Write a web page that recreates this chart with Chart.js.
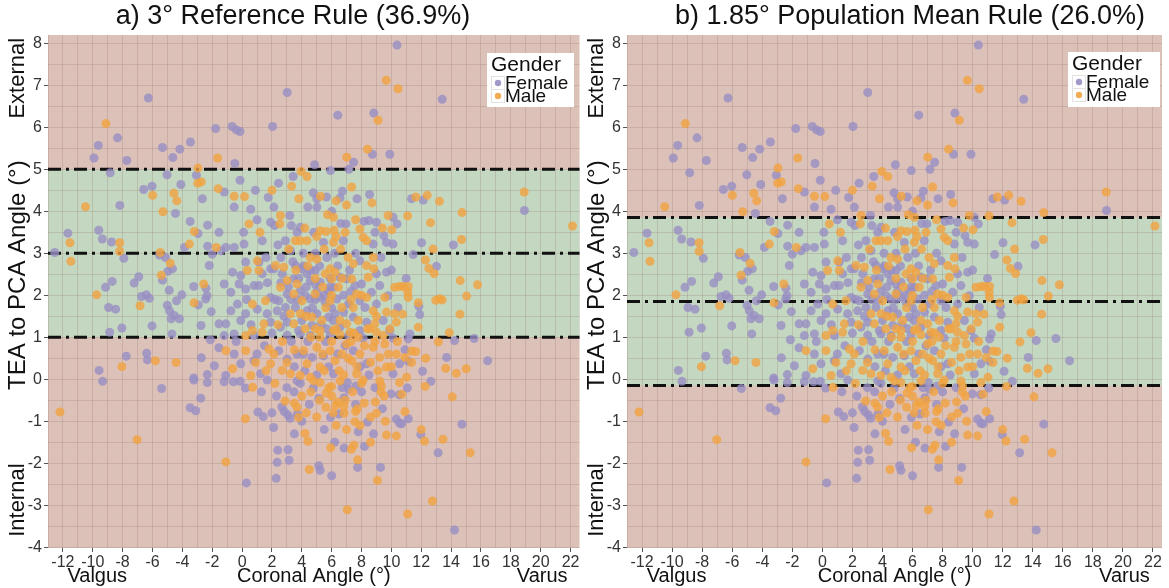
<!DOCTYPE html>
<html><head><meta charset="utf-8">
<script src="https://cdn.jsdelivr.net/npm/chart.js@4/dist/chart.umd.min.js"></script>
<style>
html,body{margin:0;padding:0;background:#fff;width:1169px;height:588px;overflow:hidden}
#wa{position:absolute;left:0;top:0;width:584px;height:588px}
#wb{position:absolute;left:584px;top:0;width:585px;height:588px}
</style></head><body>
<div id="wa"><canvas id="ca"></canvas></div>
<div id="wb"><canvas id="cb"></canvas></div>
<script>
// ---- data ----
const xTickLabels = [-12,-10,-8,-6,-4,-2,0,2,4,6,8,10,12,14,16,18,20,22];
const yTickLabels = [-4,-3,-2,-1,0,1,2,3,4,5,6,7,8];
const ruleA = [1, 3, 5];           // lower, center, upper (deg)
const ruleB = [-0.15, 1.85, 3.85];
const titleA = "a) 3° Reference Rule (36.9%)";
const titleB = "b) 1.85° Population Mean Rule (26.0%)";
const female = [
[-6.28,6.70],[-8.34,5.75],[-9.63,5.57],[-9.92,5.27],[-7.72,5.21],[-5.33,5.52],[-4.64,5.28],[-4.17,5.48],[-3.46,5.65],[-1.77,5.97],[-8.83,4.92],[-5.03,4.87],[-3.06,4.86],[-4.10,4.64],[-6.59,4.52],[-6.03,4.60],[-2.66,4.30],[-8.19,4.14],
[10.38,7.96],[3.02,6.83],[6.41,6.29],[8.82,6.34],[-0.67,6.02],[-0.38,5.94],[-0.14,5.90],[2.04,6.02],[8.73,5.36],[9.89,5.36],[7.47,5.17],[-0.49,5.14],[4.86,5.11],[3.42,4.83],[5.92,4.97],[7.16,5.00],[-0.14,4.74],[2.44,4.67],[0.89,4.50],[-1.20,4.46],[1.75,4.33],[4.77,4.44],[5.01,4.30],[5.65,4.34],[6.72,4.48],[6.56,4.32],[8.54,4.40],[-0.53,4.10],[0.58,4.05],[2.13,4.10],[5.01,4.10],
[13.40,6.67],[11.35,4.30],[12.13,4.27],
[-4.46,3.95],[-3.48,3.76],[-2.31,3.67],[-1.55,3.50],[-2.95,3.47],[-3.86,3.14],[-2.31,3.17],[-2.00,2.98],[-2.20,2.71],[-11.67,3.48],[-12.55,3.02],[-9.60,3.55],[-9.36,3.34],[-8.74,3.27],[-7.92,2.88],[-5.53,2.96],[-5.13,2.90],[-4.66,2.63],[-4.97,2.57],[-5.33,2.36],[-6.92,2.44],[-7.23,2.29],[-8.70,2.33],[-9.14,2.19],[-6.74,1.97],[-6.41,2.01],[-6.21,1.93],[-8.94,1.71],[-8.47,1.67],[-4.88,2.12],[-4.04,2.01],[-4.39,1.87],[-5.01,1.76],[-4.86,1.63],[-4.55,1.52],[-4.75,1.44],[-4.20,1.44],[-3.24,2.21],[-2.42,2.17],[-2.35,1.99],[-2.44,1.91],[-2.93,1.77],[-2.07,1.61],[-1.55,1.32],[-2.75,1.28],[-6.03,1.27],[-8.05,1.22],[-8.87,1.12],[-4.70,1.08],[-2.13,0.94],[-7.76,0.55],[-6.39,0.62],[-6.34,0.46],[-9.58,0.21],[-2.73,0.51],[-1.86,0.32],[-2.33,0.11],[-3.24,0.03],[-1.55,0.75],
[-9.34,-0.05],[-5.39,-0.22],[-3.22,-0.02],[-2.33,-0.08],[-2.77,-0.45],[-3.48,-0.68],[-3.10,-0.75],
[12.64,-0.05],[11.07,-0.21],[11.13,-0.94],[10.69,-1.06],[14.73,-1.07],[11.97,-1.32],[13.13,-1.75],[14.23,-3.59],
[18.91,4.02],[12.02,3.25],[14.15,3.20],[11.46,2.97],[13.02,2.69],[10.99,2.40],[11.84,1.74],[11.90,1.54],[11.24,1.08],[11.13,0.96],[14.23,0.92],[15.54,0.97],[10.91,0.70],[11.13,0.43],[13.70,0.52],[16.45,0.44],[12.09,0.19],
[-1.20,-0.06],[-0.58,-0.06],[-0.13,-0.05],[0.22,-0.21],[1.06,-0.78],[1.42,-0.89],[2.11,-1.15],[0.29,-2.47],[2.39,-1.69],[3.08,-1.68],[2.35,-1.98],[3.15,-1.93],[2.28,-2.36],[6.83,-1.64],[7.74,-2.10],[5.14,-2.06],[5.23,-2.17],[9.27,-2.10],[7.78,-1.25],[8.40,-1.02],[10.33,-0.95],[10.55,-1.05],[5.92,-0.91],[6.50,-0.83],[6.83,-0.44],[5.14,-0.46],[4.77,-0.21],[2.66,-0.66],[2.82,-0.77],[3.06,-0.85],[3.21,-0.93],[3.48,-0.30],[3.70,-0.83],[9.98,-0.35],[10.53,-0.37],[7.12,-0.24],[7.63,-0.16],[7.05,-0.08],[3.68,-0.04],[3.90,-0.10],[1.68,-0.02],
[1.91,3.74],[2.17,3.66],[3.30,3.66],[3.68,3.50],[6.61,3.71],[6.96,3.70],[5.45,3.26],[6.78,3.30],[8.16,3.76],[8.49,3.78],[9.00,3.74],[10.11,3.86],[10.38,3.70],[9.49,3.42],[8.78,3.22],[9.67,3.26],[10.11,3.22],[3.90,3.62],[-1.42,3.06],[-1.09,3.14],[-0.53,3.14],[0.13,3.22],[1.35,3.30],[1.13,2.79],[3.24,3.06],[4.12,2.70],[5.68,2.90],[4.90,2.59],[6.56,2.43],[7.89,2.82],[9.00,2.51],[9.67,2.55],[0.24,2.79],[-0.64,2.55],[-0.09,2.47],[1.35,2.51],[1.91,2.63],[2.13,2.63],[2.68,2.51],[3.57,2.71],[4.01,2.63],[4.35,2.51],[3.46,2.39],[4.57,2.35],[4.90,2.27],[5.23,2.31],[6.12,2.19],[5.79,2.11],[7.00,2.39],[7.56,2.23],[8.00,2.27],[8.67,2.07],[9.22,2.23],[9.78,1.99],[-1.20,2.27],[-0.75,2.07],[-0.20,2.27],[0.24,2.15],[0.80,2.23],[1.13,2.23],[1.91,1.95],[2.46,1.87],[3.02,2.03],[3.90,2.11],[4.23,1.99],[4.57,1.91],[5.23,1.95],[5.57,1.83],[6.34,1.91],[7.12,1.79],[7.89,1.87],[8.23,1.71],[9.00,1.79],[10.44,1.71],[-0.75,1.63],[-0.31,1.79],[0.24,1.56],[1.02,1.67],[1.68,1.56],[2.35,1.63],[2.90,1.71],[3.57,1.71],[4.35,1.63],[5.01,1.56],[5.79,1.48],[6.23,1.56],[7.45,1.48],[8.34,1.36],[9.45,1.40],[-1.09,1.32],[-0.09,1.40],[1.91,1.36],[2.57,1.24],[3.02,1.36],[3.79,1.16],[4.68,1.28],[5.68,1.20],[6.56,1.24],[7.89,1.16],[9.89,1.16],[-1.20,1.04],[-0.53,1.08],[0.80,1.04],[3.02,1.05],[3.90,1.08],[4.57,1.04],[5.90,1.04],[7.12,1.04],[8.11,0.98],[10.11,0.98],[-0.53,0.60],[-0.09,0.37],[0.80,0.44],[2.46,0.68],[3.02,0.48],[3.68,0.60],[4.68,0.52],[5.45,0.56],[6.12,0.13],[7.45,0.68],[8.34,0.37],[10.11,0.13],[10.55,0.37],[1.24,0.13],[-1.09,0.09],
[2.6,2.9],[3.4,2.8],[4.1,3.0],[4.6,2.6],[5.2,2.7],[5.9,2.4],[6.4,2.7],[3.1,2.2],[3.8,2.4],[4.3,2.2],[5.0,2.1],[5.5,2.0],[6.0,1.7],[6.8,2.0],[7.3,2.1],[4.0,1.4],[4.7,1.7],[5.3,1.3],[6.1,1.4],[6.8,1.6],[2.2,1.9],[2.8,1.5],[3.3,1.9],[4.4,0.9],[5.6,0.9],[6.9,0.8],[2.0,1.1],[1.5,0.8],[3.5,0.3],[4.2,0.2],[5.8,0.3],[6.7,-0.2],[8.5,0.1],[9.4,-0.7],[8.8,-1.3],[4.5,-0.6],[4.0,-1.0],[5.5,-1.2],[6.2,-1.5],[8.0,-0.3],[1.0,0.6],[0.3,1.9],[-0.4,0.9],[1.6,2.9],[2.9,3.3],[4.8,3.5],[7.6,3.0],[8.9,3.5],[9.3,2.9],[10.0,2.6],[7.9,0.3],[3.0,-0.2],[2.3,-0.4],[1.3,-0.3],
[3.2,3.9],[4.4,4.1],[6.0,4.0],[7.7,4.3],[1.0,3.8],[0.1,3.5],[2.4,3.2],[4.9,3.0],[6.2,3.0],[7.2,2.6],[3.7,1.9],[4.9,1.9],[5.9,2.2],[2.6,2.3],[1.7,2.3],[0.6,1.3],[3.3,0.9],[4.1,0.6],[6.4,0.6],[5.0,0.1],[7.6,-0.6],[8.9,-0.2],[2.0,-0.8],[3.5,-1.3],[6.0,-2.3],[8.2,-1.6]
];
const male = [
[-9.12,6.09],[-1.64,5.27],[-2.95,5.03],[-2.97,4.67],[-2.73,4.70],[-5.99,4.38],[-4.57,4.43],[-4.37,4.25],[-1.60,4.54],[-10.49,4.11],
[9.65,7.12],[10.44,6.92],[9.11,6.17],[8.40,5.48],[7.01,5.29],[3.95,4.95],[4.35,4.83],[7.34,4.58],[3.32,4.60],[-0.53,4.36],[0.16,4.35],[5.25,4.36],[6.30,4.25],[7.00,4.15],
[18.89,4.46],[11.64,4.34],[12.40,4.38],[13.22,4.24],
[-5.30,3.99],[-3.20,3.52],[-3.53,3.22],[-1.73,3.14],[-11.53,3.25],[-11.47,2.81],[-8.20,3.25],[-8.20,3.05],[-5.48,3.02],[-4.81,2.76],[-5.41,2.48],[-9.74,2.01],[-6.83,1.75],[-2.57,2.27],[-3.22,1.82],[-5.81,0.44],[-4.42,0.40],[-8.05,0.30],
[-12.20,-0.78],[-7.03,-1.44],
[12.26,-0.17],[10.69,-0.36],[14.08,-0.42],[10.91,-0.77],[12.00,-1.20],[12.22,-1.47],[13.46,-1.43],[15.28,-1.75],[12.75,-2.90],[11.09,-3.21],
[11.09,3.89],[14.73,3.97],[12.62,3.73],[22.13,3.65],[14.70,3.33],[12.79,3.10],[12.28,2.84],[12.51,2.64],[12.86,2.52],[14.61,2.35],[15.77,2.25],[10.80,2.21],[11.13,2.21],[11.10,2.07],[11.12,1.95],[15.04,1.98],[12.97,1.88],[13.24,1.92],[13.40,1.89],[11.80,1.82],[10.75,1.55],[14.59,1.55],[11.80,1.24],[13.88,1.11],[13.15,0.89],[11.35,0.67],[11.62,0.66],[10.91,0.52],[11.35,0.40],[12.30,0.50],[13.64,0.26],[15.01,0.25],[14.35,0.14],[11.02,0.05],
[0.71,-0.19],[0.22,-0.94],[-1.09,-1.97],[4.21,-1.29],[4.41,-1.48],[5.94,-1.63],[7.32,-1.67],[7.49,-1.57],[7.74,-1.92],[4.50,-2.15],[9.07,-2.41],[7.05,-3.11],[9.67,-1.33],[10.33,-1.35],[7.56,-1.01],[6.83,-0.81],[7.60,-0.77],[7.72,-0.70],[5.61,-0.67],[6.27,-0.62],[6.41,-0.54],[6.81,-0.65],[5.63,-0.33],[5.99,-0.17],[2.88,-0.52],[3.50,-0.57],[3.68,-0.67],[3.79,-0.91],[8.93,-0.54],[9.00,-0.81],[9.51,-0.40],[9.33,-0.16],[8.18,-0.57],[5.23,-0.08],[4.79,-0.04],[6.56,-0.04],[8.11,-0.02],[9.22,-0.04],[10.55,-0.08],
[0.46,3.70],[2.57,3.90],[2.53,3.70],[3.57,3.30],[3.90,3.30],[4.35,3.30],[5.72,3.92],[6.12,3.86],[5.23,3.54],[5.63,3.52],[6.16,3.55],[6.30,3.40],[6.12,3.26],[9.78,3.90],[10.02,3.56],[8.11,3.38],[8.34,3.30],[7.89,3.58],[1.02,2.82],[3.13,3.10],[2.79,2.67],[2.24,2.71],[4.57,2.90],[5.01,2.86],[5.90,2.63],[6.23,2.55],[7.45,2.75],[8.34,2.71],[8.78,2.90],[8.82,2.63],[8.45,2.43],[10.22,2.19],[10.55,2.21],[0.35,2.59],[1.13,2.59],[3.02,2.35],[3.68,2.27],[5.57,2.51],[6.01,2.39],[6.45,2.19],[7.34,2.39],[7.67,2.03],[8.34,1.95],[9.56,1.95],[0.69,1.79],[1.57,1.87],[2.57,2.19],[3.46,2.03],[4.01,1.87],[4.90,2.03],[5.90,1.87],[6.67,1.71],[7.45,1.71],[8.78,1.63],[9.67,1.60],[10.22,1.56],[3.24,1.56],[3.90,1.56],[4.68,1.48],[5.34,1.40],[6.56,1.40],[7.01,1.32],[7.78,1.40],[8.89,1.32],[10.33,1.36],[0.69,1.16],[1.46,1.32],[3.46,1.32],[4.23,1.20],[5.23,1.16],[6.12,1.16],[7.23,1.12],[8.56,1.20],[9.00,1.12],[0.24,1.04],[1.35,1.12],[5.23,1.00],[6.56,1.06],[7.78,1.00],[9.45,1.04],[-1.09,0.68],[0.24,0.68],[-0.64,0.25],[1.80,0.72],[2.13,0.60],[1.91,0.37],[2.68,0.21],[3.24,0.13],[4.12,0.68],[4.35,0.37],[5.01,0.76],[5.23,0.29],[5.90,0.68],[6.23,0.44],[6.67,0.60],[7.00,0.84],[7.34,0.44],[7.67,0.13],[7.89,0.60],[8.78,0.76],[9.22,0.52],[9.56,0.84],[9.67,0.29],[10.33,0.60],[3.90,0.09],[4.57,0.05],[0.58,0.09],
[4.6,1.0],[5.4,0.6],[6.0,0.9],[6.5,0.2],[7.1,0.5],[7.5,1.1],[8.2,0.8],[8.6,0.4],[9.1,0.2],[9.8,0.6],[8.0,-0.1],[7.4,-0.3],[6.9,-0.5],[6.1,-0.8],[5.2,-0.5],[4.6,-0.3],[4.3,-0.8],[8.6,-0.9],[9.6,-1.0],[7.0,-1.2],[6.3,-1.1],[3.5,0.7],[2.7,0.9],[4.9,2.4],[5.4,2.2],[6.7,2.4],[7.1,2.9],[6.9,3.5],[4.4,2.7],[3.6,2.6],[8.0,2.0],[9.0,1.5],[9.9,1.2],[10.4,0.9],[4.2,3.6],[5.5,3.1],[6.6,3.1],[1.6,0.2],[2.2,-0.1],[0.9,0.4],[5.8,-0.2],[7.7,0.3],[6.3,1.2],[5.6,1.7],[4.9,1.2],
[5.5,0.2],[6.8,0.1],[7.3,0.9],[8.4,1.2],[8.9,0.9],[9.3,-0.3],[6.0,-0.4],[5.0,-0.9],[7.9,-1.1],[8.6,-1.5],[4.0,-0.4],[3.0,0.4],[2.4,1.3],[5.0,3.4],[7.6,3.8],[8.7,4.2],[9.4,3.6],[7.3,1.9],[6.0,2.0],[4.3,1.5],[1.2,3.5],[2.0,4.5],[3.8,4.3],[10.0,0.3]
];

// ---- styles ----
const FONT = "'Liberation Sans', Arial, sans-serif";
const PINK = '#dcc1b8', GREEN = '#c4d7c1';
const PURPLE = 'rgba(153,142,195,0.8)', ORANGE = 'rgba(241,163,64,0.8)';
const XMIN = -13, XMAX = 22.6, YMIN = -4.02, YMAX = 8.2;

function makeChart(id, rule, title, yWidth, padRight, titleCx, L){
  const bg = {
    id:'bg',
    beforeDraw(chart){
      const {ctx, chartArea:a, scales:{y}} = chart;
      ctx.save();
      ctx.fillStyle = PINK; ctx.fillRect(a.left, a.top, a.width, a.height);
      const t = y.getPixelForValue(rule[2]), b = y.getPixelForValue(rule[0]);
      ctx.fillStyle = GREEN; ctx.fillRect(a.left, t, a.width, b - t);
      ctx.restore();
    },
    afterDraw(chart){
      const {ctx, chartArea:a, scales:{x,y}} = chart;
      ctx.save();
      ctx.fillStyle = '#111';
      ctx.textAlign = 'center'; ctx.textBaseline = 'middle';
      ctx.font = '27px ' + FONT;
      ctx.fillText(title, titleCx, 17);
      ctx.font = '20px ' + FONT;
      ctx.fillText('Coronal Angle (°)', (a.left + a.right)/2, 576);
      ctx.fillText('Valgus', x.getPixelForValue(-9.7), 576);
      ctx.fillText('Varus', x.getPixelForValue(20.1), 576);
      const lx = a.left - 30;
      [['External', 7.17, 22], ['TEA to PCA Angle (°)', 2.48, 24], ['Internal', -2.88, 22]].forEach(([t, v, fs]) => {
        ctx.font = fs + 'px ' + FONT;
        ctx.save(); ctx.translate(lx, y.getPixelForValue(v)); ctx.rotate(-Math.PI/2); ctx.fillText(t, 0, 0); ctx.restore();
      });
      // legend
      ctx.fillStyle = '#ffffff';
      ctx.fillRect(L.x, L.y, L.w, L.h);
      ctx.strokeStyle = '#e2e2e2'; ctx.lineWidth = 1;
      ctx.strokeRect(L.x + 4.5, L.y + 23.5, 13, 13);
      ctx.strokeRect(L.x + 4.5, L.y + 36.5, 13, 13);
      ctx.fillStyle = '#111';
      ctx.textAlign = 'left';
      ctx.font = '21px ' + FONT;
      ctx.fillText('Gender', L.x + 4, L.y + 12);
      ctx.font = '19px ' + FONT;
      ctx.fillText('Female', L.x + 18, L.y + 31);
      ctx.fillText('Male', L.x + 18, L.y + 44);
      ctx.fillStyle = 'rgba(153,142,195,0.9)';
      ctx.beginPath(); ctx.arc(L.x + 11, L.y + 30, 3.2, 0, Math.PI*2); ctx.fill();
      ctx.fillStyle = 'rgba(241,163,64,0.9)';
      ctx.beginPath(); ctx.arc(L.x + 11, L.y + 43, 3.2, 0, Math.PI*2); ctx.fill();
      ctx.restore();
    }
  };
  const lineDs = (v) => ({
    type:'line', data:[{x:XMIN,y:v},{x:XMAX,y:v}], borderColor:'#111', borderWidth:3,
    borderDash:[13,5,3,5], pointRadius:0, order:5, clip:false
  });
  return new Chart(document.getElementById(id), {
    type:'scatter',
    data:{datasets:[
      lineDs(rule[0]), lineDs(rule[1]), lineDs(rule[2]),
      {label:'Female', data:female.map(p=>({x:p[0],y:p[1]})), backgroundColor:PURPLE, borderWidth:0, pointRadius:4.5, order:2},
      {label:'Male', data:male.map(p=>({x:p[0],y:p[1]})), backgroundColor:ORANGE, borderWidth:0, pointRadius:4.5, order:1}
    ]},
    options:{
      responsive:true, maintainAspectRatio:false, animation:false,
      layout:{padding:{top:35, right:padRight, left:0, bottom:0}},
      plugins:{legend:{display:false}, tooltip:{enabled:false}},
      scales:{
        x:{type:'linear', min:XMIN, max:XMAX,
           afterFit(s){ s.height = 40; },
           afterBuildTicks(s){ const t=[]; for(let v=-13; v<=22; v++) t.push({value:v}); s.ticks = t; },
           ticks:{autoSkip:false, maxRotation:0, padding:1, color:'#333', font:{family:FONT, size:16},
             callback:(v)=> xTickLabels.includes(v) ? String(v) : ''},
           grid:{color:'rgba(140,105,100,0.22)', lineWidth:1, drawTicks:true, tickLength:4,
             tickColor:(c)=> (c.tick && xTickLabels.includes(c.tick.value)) ? '#555' : 'rgba(0,0,0,0)'},
           border:{display:false}
        },
        y:{type:'linear', min:YMIN, max:YMAX,
           afterFit(s){ s.width = yWidth; },
           afterBuildTicks(s){ const t=[]; for(let v=-4; v<=8; v+=0.5) t.push({value:v}); s.ticks = t; },
           ticks:{autoSkip:false, padding:2, color:'#333', font:{family:FONT, size:16},
             callback:(v)=> yTickLabels.includes(v) ? String(v) : ''},
           grid:{color:'rgba(140,105,100,0.22)', lineWidth:1, drawTicks:true, tickLength:4,
             tickColor:(c)=> (c.tick && yTickLabels.includes(c.tick.value)) ? '#555' : 'rgba(0,0,0,0)'},
           border:{display:false}
        }
      }
    },
    plugins:[bg]
  });
}
makeChart('ca', ruleA, titleA, 48, 1, 293, {x:487, y:53, w:87, h:54});
makeChart('cb', ruleB, titleB, 43, 7, 326, {x:484, y:52, w:92, h:55});
</script>
</body></html>
